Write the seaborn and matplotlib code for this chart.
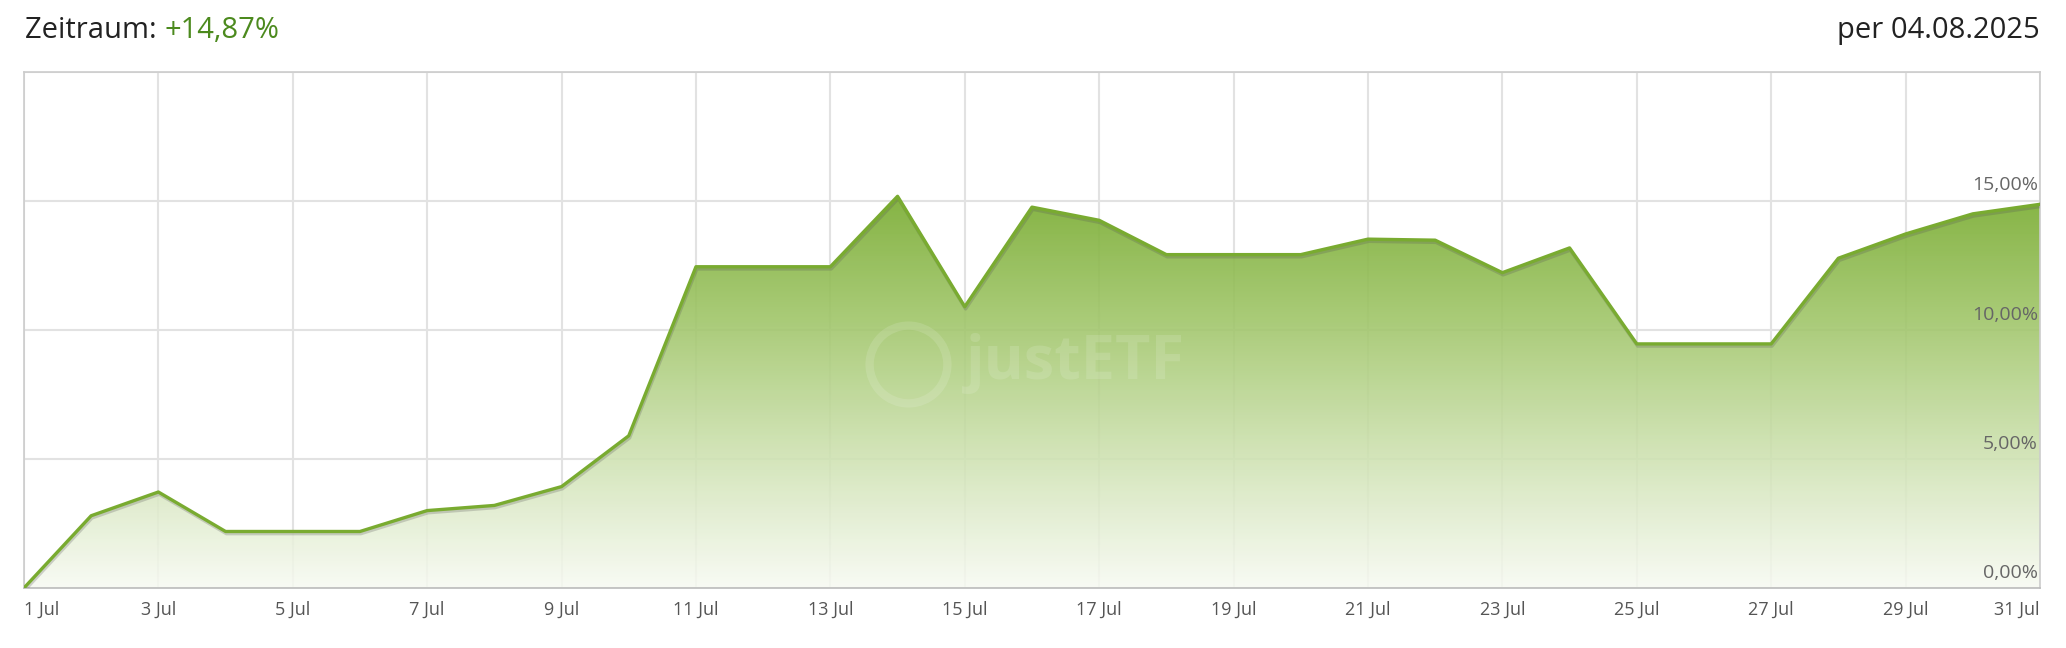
import numpy as np
import pandas as pd
import matplotlib
matplotlib.use("Agg")
import matplotlib.pyplot as plt
import matplotlib.patheffects as pe
from matplotlib.colors import LinearSegmentedColormap
import seaborn as sns

# Daten: Wertentwicklung Juli 2025 (in %)
days = list(range(1, 32))
perf = [0.00, 2.80, 3.72, 2.19, 2.19, 2.19, 3.00, 3.20, 3.93, 5.90,
        12.45, 12.45, 12.45, 15.18, 10.90, 14.76, 14.25, 12.92, 12.92, 12.92,
        13.52, 13.48, 12.22, 13.18, 9.46, 9.46, 9.46, 12.78, 13.72, 14.50,
        14.87]
tick_days = list(range(1, 32, 2))
tick_labels = [f"{d} Jul" for d in tick_days]
y_ticks = [0, 5, 10, 15]
y_labels = ["0,00%", "5,00%", "10,00%", "15,00%"]
total = "+14,87%"
stand = "per 04.08.2025"

df = pd.DataFrame({"Tag": days, "Performance": perf})

sns.set_theme(style="white")
plt.rcParams['font.family'] = ['Open Sans', 'DejaVu Sans']

fig = plt.figure(figsize=(20.66, 6.48), dpi=100)
ax = fig.add_axes([0.0116, 0.0926, 0.9758, 0.7964])

line_col = "#79ab30"
grid_col = "#e2e2e2"

# Gitter
for d in tick_days:
    ax.axvline(d, color=grid_col, lw=1.5, zorder=0)
for v in [0, 5, 10, 15, 20]:
    ax.axhline(v, color=grid_col, lw=1.5, zorder=0)

# Farbverlauf unter der Kurve
cmap = LinearSegmentedColormap.from_list(
    "gr", [(0.0, (0.97, 0.98, 0.95, 0.85)), (0.35, (0.80, 0.88, 0.68, 0.88)),
           (0.7, (0.62, 0.77, 0.40, 0.9)), (1.0, (0.48, 0.68, 0.20, 0.92))])
ymax = max(perf)
grad = np.linspace(0, 1, 256).reshape(-1, 1)
im = ax.imshow(grad, cmap=cmap, aspect="auto", origin="lower",
               extent=[days[0], days[-1], 0, ymax], zorder=1)
poly = ax.fill_between(days, perf, 0, color="none", lw=0)
clip = poly.get_paths()[0]
im.set_clip_path(clip, transform=ax.transData)

sns.lineplot(data=df, x="Tag", y="Performance", ax=ax, color=line_col, lw=2.4, zorder=3,
             path_effects=[pe.SimpleLineShadow(offset=(0.6, -1.6), alpha=0.25, shadow_color="#555555"),
                           pe.Normal()])

# Wasserzeichen
ax.text(16.65, 8.7, "justETF", fontsize=44, fontweight="bold", color="white", alpha=0.13,
        ha="center", va="center", zorder=2)
ax.plot([14.15], [8.7], marker="o", ms=56, mfc="none", mec="white", mew=6, alpha=0.13, zorder=2)

ax.set_xlim(1, 31)
ax.set_ylim(0, 20)
ax.set_xlabel("")
ax.set_ylabel("")
ax.set_xticks(tick_days)
ax.set_xticklabels(tick_labels, fontsize=13, color="#555555")
ax.set_yticks([])
ax.tick_params(axis="x", length=0, pad=9)
lbls = ax.get_xticklabels()
lbls[0].set_ha("left")
lbls[-1].set_ha("right")

for v, t in zip(y_ticks, y_labels):
    ax.text(30.97, v + 0.25, t, fontsize=14, color="#666666", ha="right", va="bottom", zorder=4)

for s in ax.spines.values():
    s.set_color("#cccccc")
    s.set_linewidth(1.2)
ax.spines["bottom"].set_color("#bbbbbb")

fig.text(0.0121, 0.941, "Zeitraum: ", fontsize=21, color="#222222", ha="left", va="baseline")
fig.canvas.draw()
r = fig.texts[0].get_window_extent(fig.canvas.get_renderer())
fig.text(r.x1 / fig.bbox.width, 0.941, total, fontsize=21, color="#4c8a1e", ha="left", va="baseline")
fig.text(0.9874, 0.941, stand, fontsize=21, color="#222222", ha="right", va="baseline")

fig.savefig("out.png", dpi=100)
